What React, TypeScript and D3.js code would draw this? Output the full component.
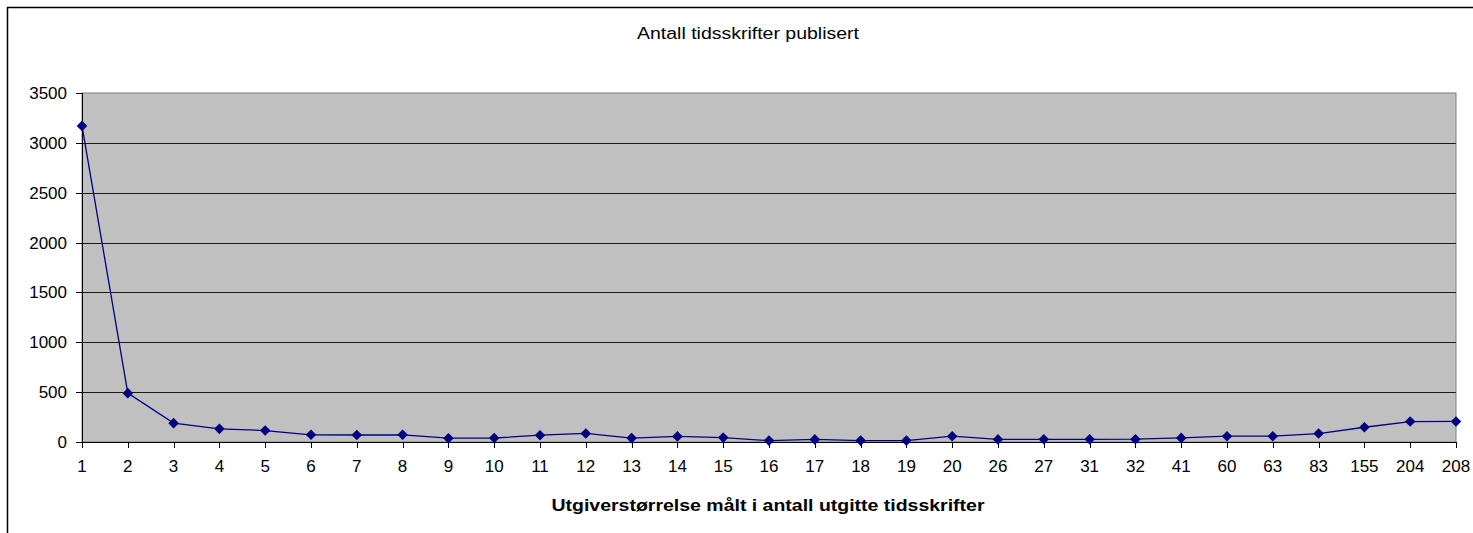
import React from "react";
import * as d3 from "d3";

const categories: string[] = [
  "1", "2", "3", "4", "5", "6", "7", "8", "9", "10",
  "11", "12", "13", "14", "15", "16", "17", "18", "19", "20",
  "26", "27", "31", "32", "41", "60", "63", "83", "155", "204", "208",
];
const journals: number[] = [
  3170, 490, 189, 132, 115, 72, 70, 72, 38, 40,
  68, 86, 39, 56, 44, 14, 26, 14, 14, 58,
  26, 27, 27, 28, 41, 58, 58, 85, 148, 205, 206,
];
const yTicks: number[] = [0, 500, 1000, 1500, 2000, 2500, 3000, 3500];
const chartTitle = "Antall tidsskrifter publisert";
const xAxisTitle = "Utgiverstørrelse målt i antall utgitte tidsskrifter";

export default function App() {
  const W = 1473, H = 533;
  const left = 82, right = 1456, top = 93, bottom = 442;
  const x = d3.scalePoint<string>().domain(categories).range([left, right]);
  const y = d3.scaleLinear().domain([0, 3500]).range([bottom, top]);
  const line = d3.line<number>()
    .x((_, i) => x(categories[i]) as number)
    .y((d) => y(d));
  const diamond = d3.symbol().type(d3.symbolSquare).size(56)();
  const font = "'Liberation Sans', Arial, sans-serif";
  return (
    <svg width={W} height={H} style={{ position: "absolute", left: 0, top: 0 }} fontFamily={font}>
      <rect x={0} y={0} width={W} height={H} fill="#fff" />
      <rect x={7.5} y={7.5} width={W + 20} height={H + 20} fill="none" stroke="#000" strokeWidth={1.5} />
      <text x={748} y={39} textAnchor="middle" fontSize={16} textLength={222} lengthAdjust="spacingAndGlyphs">{chartTitle}</text>
      <rect x={left} y={top} width={right - left} height={bottom - top} fill="#C0C0C0" stroke="#808080" strokeWidth={1} />
      {yTicks.map((t) => (
        <g key={t}>
          {t > 0 && t < 3500 && (
            <line x1={left} x2={right} y1={Math.round(y(t)) + 0.5} y2={Math.round(y(t)) + 0.5} stroke="#1a1a1a" strokeWidth={1} />
          )}
          <line x1={left - 6} x2={left} y1={Math.round(y(t)) + 0.5} y2={Math.round(y(t)) + 0.5} stroke="#000" />
          <text x={67} y={y(t) + 6} textAnchor="end" fontSize={17}>{t}</text>
        </g>
      ))}
      <line x1={left + 0.5} x2={left + 0.5} y1={top} y2={bottom} stroke="#000" />
      <line x1={left} x2={right} y1={bottom + 0.5} y2={bottom + 0.5} stroke="#000" />
      {categories.map((c) => (
        <g key={c}>
          <line x1={Math.round(x(c) as number) + 0.5} x2={Math.round(x(c) as number) + 0.5} y1={bottom} y2={bottom + 6} stroke="#000" />
          <text x={x(c) as number} y={472} textAnchor="middle" fontSize={17}>{c}</text>
        </g>
      ))}
      <path d={line(journals) || ""} fill="none" stroke="#000080" strokeWidth={1.3} />
      {journals.map((v, i) => (
        <path key={i} d={diamond || ""} transform={`translate(${x(categories[i])},${y(v)}) rotate(45)`} fill="#000080" />
      ))}
      <text x={768} y={511} textAnchor="middle" fontSize={16} fontWeight="bold" textLength={433} lengthAdjust="spacingAndGlyphs">{xAxisTitle}</text>
    </svg>
  );
}
